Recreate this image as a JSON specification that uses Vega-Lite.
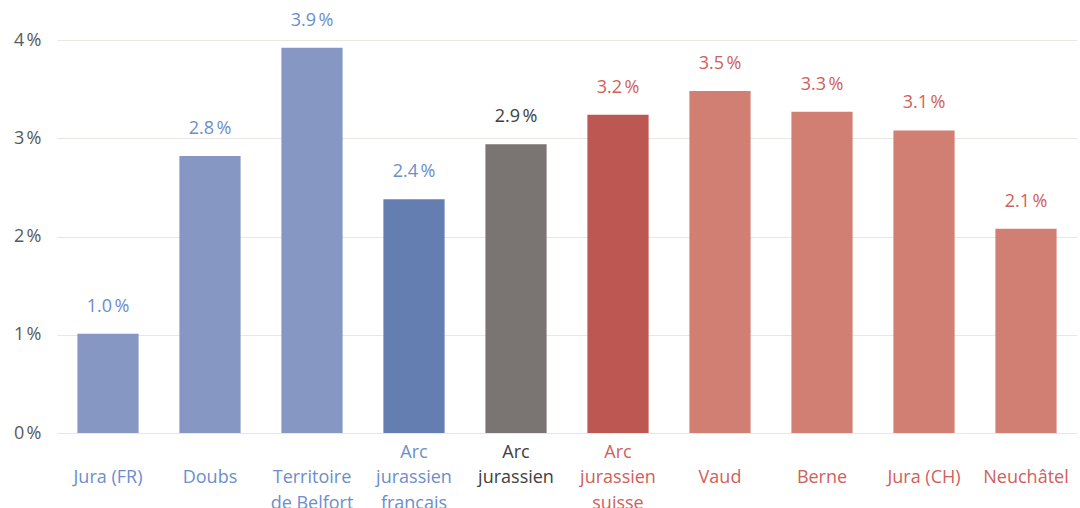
{
  "$schema": "https://vega.github.io/schema/vega-lite/v6.json",
  "autosize": "none",
  "width": 1020,
  "height": 393,
  "padding": {"left": 57, "top": 40, "right": 3, "bottom": 75},
  "background": "white",
  "config": {"font": "Open Sans", "view": {"stroke": null}},
  "data": {"values": [
    {"region": "Jura (FR)", "grp": "FR", "value": 0.0101},
    {"region": "Doubs", "grp": "FR", "value": 0.0282},
    {"region": "Territoire de Belfort", "grp": "FR", "value": 0.0392},
    {"region": "Arc jurassien français", "grp": "FRT", "value": 0.0238},
    {"region": "Arc jurassien", "grp": "ARC", "value": 0.0294},
    {"region": "Arc jurassien suisse", "grp": "CHT", "value": 0.0324},
    {"region": "Vaud", "grp": "CH", "value": 0.0348},
    {"region": "Berne", "grp": "CH", "value": 0.0327},
    {"region": "Jura (CH)", "grp": "CH", "value": 0.0308},
    {"region": "Neuchâtel", "grp": "CH", "value": 0.0208}
  ]},
  "encoding": {
    "x": {
      "field": "region", "type": "nominal", "sort": null,
      "scale": {"paddingInner": 0.4, "paddingOuter": 0.2},
      "axis": {
        "title": null, "domain": false, "ticks": false, "labelAngle": 0,
        "labelFontSize": 18, "labelPadding": 10, "labelBaseline": "top",
        "labelLineHeight": 25.5, "labelLimit": 200,
        "labelExpr": "datum.value == 'Territoire de Belfort' ? ['', 'Territoire', 'de Belfort'] : datum.value == 'Arc jurassien français' ? ['Arc', 'jurassien', 'français'] : datum.value == 'Arc jurassien' ? ['Arc', 'jurassien', ''] : datum.value == 'Arc jurassien suisse' ? ['Arc', 'jurassien', 'suisse'] : ['', datum.value, '']",
        "labelColor": {
          "condition": [
            {"test": "indexof(['Jura (FR)','Doubs','Territoire de Belfort','Arc jurassien français'], datum.value) >= 0", "value": "#6C8ECB"},
            {"test": "datum.value == 'Arc jurassien'", "value": "#404040"}
          ],
          "value": "#D0605A"
        }
      }
    },
    "y": {
      "field": "value", "type": "quantitative",
      "scale": {"domain": [0, 0.04], "nice": false},
      "axis": {
        "title": null, "domain": false, "ticks": false,
        "values": [0, 0.01, 0.02, 0.03, 0.04],
        "labelExpr": "format(datum.value * 100, 'd') + '\u202f%'",
        "labelFontSize": 18, "labelColor": "#595959", "labelPadding": 16,
        "gridColor": "#EAE6E2", "gridWidth": 1.2
      }
    }
  },
  "layer": [
    {
      "mark": {"type": "bar"},
      "encoding": {
        "color": {
          "field": "grp", "type": "nominal", "legend": null,
          "scale": {"domain": ["FR", "FRT", "ARC", "CHT", "CH"],
                    "range": ["#8797C3", "#657EB1", "#7A7572", "#BC5751", "#D17F72"]}
        }
      }
    },
    {
      "mark": {"type": "text", "baseline": "middle", "dy": -27, "fontSize": 18,
               "text": {"expr": "format(datum.value * 100, '.1f') + '\u202f%'"}},
      "encoding": {
        "color": {
          "field": "grp", "type": "nominal", "legend": null,
          "scale": {"domain": ["FR", "FRT", "ARC", "CHT", "CH"],
                    "range": ["#6C8ECB", "#6C8ECB", "#404040", "#D0605A", "#D0605A"]}
        }
      }
    }
  ],
  "resolve": {"scale": {"color": "independent"}}
}
